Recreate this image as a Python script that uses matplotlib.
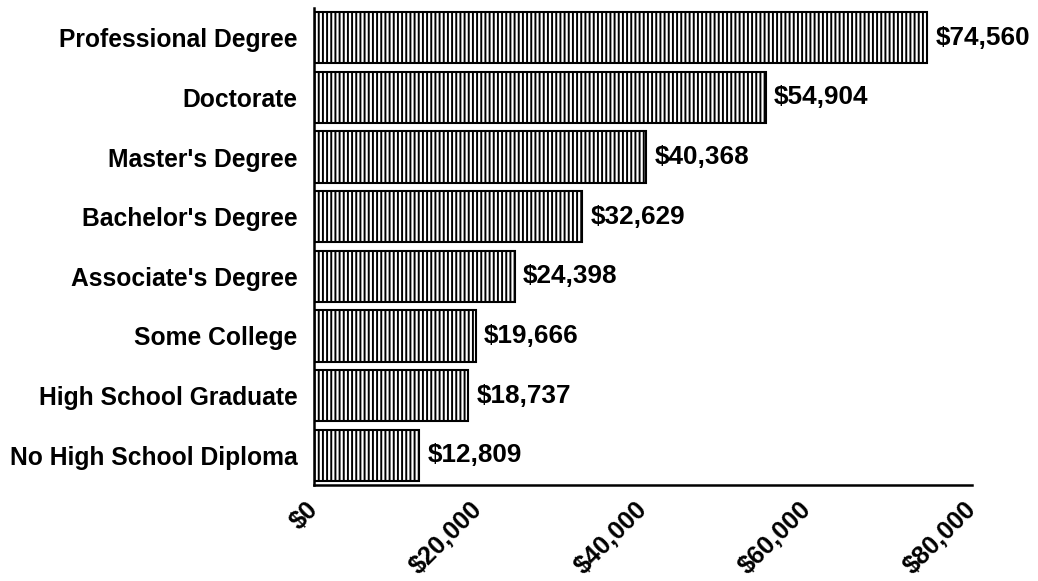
import numpy as np
import matplotlib as mpl
mpl.use('Agg')
import matplotlib.pyplot as plt

plt.rcParams['font.family'] = ['Liberation Sans', 'DejaVu Sans']
plt.rcParams['font.weight'] = 'bold'
plt.rcParams['hatch.linewidth'] = 1.4

# median earnings by education level (top to bottom as shown)
categories = ['Professional Degree', 'Doctorate', "Master's Degree", "Bachelor's Degree",
              "Associate's Degree", 'Some College', 'High School Graduate',
              'No High School Diploma']
earnings = [74560, 54904, 40368, 32629, 24398, 19666, 18737, 12809]
xticks = [0, 20000, 40000, 60000, 80000]
xticklabels = ['$0', '$20,000', '$40,000', '$60,000', '$80,000']

fig = plt.figure(figsize=(10.38, 5.81), dpi=100)
ax = fig.add_axes([0.3025, 0.1652, 0.634, 0.821])

y = np.arange(len(categories))
ax.barh(y, earnings, height=0.86, color='white', edgecolor='black',
        linewidth=1.5, hatch='||||')

for yi, v in zip(y, earnings):
  ax.annotate('${:,}'.format(v), (v, yi), xytext=(6, 0), textcoords='offset points',
              va='center', ha='left', fontsize=18.8)

ax.set_ylim(len(categories) - 0.5, -0.5)
ax.set_xlim(0, 80000)
ax.set_yticks(y)
ax.set_yticklabels(categories, fontsize=17.7)
ax.set_xticks(xticks)
ax.set_xticklabels(xticklabels, fontsize=18.2, rotation=45, ha='right', va='center',
                   rotation_mode='anchor')
ax.tick_params(axis='y', length=0, pad=12)
ax.tick_params(axis='x', length=0, pad=15)

for s in ['top', 'right']:
  ax.spines[s].set_visible(False)
for s in ['left', 'bottom']:
  ax.spines[s].set_linewidth(1.8)

plt.savefig('out.png', dpi=100)
